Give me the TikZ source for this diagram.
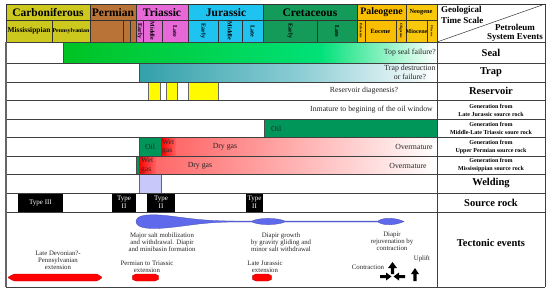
\documentclass[tikz,border=0pt]{standalone}
\usepackage{fontspec}
\setmainfont{Liberation Serif}
\definecolor{carb}{RGB}{205,200,30}
\definecolor{perm}{RGB}{185,115,55}
\definecolor{tri}{RGB}{230,105,215}
\definecolor{jur}{RGB}{30,195,240}
\definecolor{cret}{RGB}{20,155,90}
\definecolor{paleo}{RGB}{250,190,0}
\definecolor{neo}{RGB}{250,200,10}
\definecolor{sealA}{RGB}{0,195,35}
\definecolor{sealB}{RGB}{0,225,120}
\definecolor{trapA}{RGB}{50,160,170}
\definecolor{trapB}{RGB}{140,205,212}
\definecolor{oilg}{RGB}{0,150,90}
\definecolor{pinkA}{RGB}{255,105,105}
\definecolor{weld}{RGB}{200,200,250}
\definecolor{salt}{RGB}{95,105,235}
\definecolor{resy}{RGB}{255,250,0}
\begin{document}
\begin{tikzpicture}[x=1pt,y=-1pt,
  cell/.style={draw=black!80, line width=0.5pt},
  per/.style={font=\bfseries\fontsize{11.5}{12}\selectfont, inner sep=0},
  ep/.style={font=\bfseries\fontsize{6}{6}\selectfont, inner sep=0},
  vep/.style={ep, rotate=-90},
  tiny/.style={font=\bfseries\fontsize{3.5}{3.5}\selectfont, inner sep=0, rotate=-90},
  evt/.style={font=\bfseries\fontsize{10.5}{11}\selectfont, inner sep=0},
  hd/.style={font=\bfseries\fontsize{9}{10}\selectfont, inner sep=0},
  gen/.style={font=\bfseries\fontsize{6}{8}\selectfont, align=center, inner sep=0},
  txt/.style={font=\fontsize{7.8}{8.5}\selectfont, inner sep=0, text=black!85},
  tec/.style={font=\fontsize{6.8}{7}\selectfont, align=center, inner sep=0, text=black!85},
  wtxt/.style={font=\fontsize{7}{8}\selectfont, align=center, inner sep=0, text=white},
  rowline/.style={draw=black!75, line width=0.7pt},
  redarrow/.style={fill=red, draw=red!70!black, line width=0.3pt, rounded corners=1pt},
  blk/.style={fill=black}]
\useasboundingbox (0,0) rectangle (550,293);
% ---------- header: periods
\draw[cell, fill=carb] (6,4) rectangle (90,20);
\draw[cell, fill=perm] (90,4) rectangle (136,20);
\draw[cell, fill=tri] (136,4) rectangle (188,20);
\draw[cell, fill=jur] (188,4) rectangle (263,20);
\draw[cell, fill=cret] (263,4) rectangle (357,20);
\draw[cell, fill=paleo] (357,4) rectangle (406,20);
\draw[cell, fill=neo] (406,4) rectangle (437,20);
\node[per] (pCarb) at (48,12.5) {Carboniferous};
\node[per] (pPerm) at (113,12.5) {Permian};
\node[per] (pTri) at (162,12.5) {Triassic};
\node[per] (pJur) at (226,12.5) {Jurassic};
\node[per] (pCret) at (310,12.5) {Cretaceous};
\node[per, font=\bfseries\fontsize{9.9}{10}\selectfont] (pPal) at (381.5,12.5) {Paleogene};
\node[per, font=\bfseries\fontsize{6.3}{7}\selectfont] (pNeo) at (421,12.5) {Neogene};
% ---------- header: epochs
\draw[cell, fill=carb] (6,20) rectangle (52,42);
\draw[cell, fill=carb] (52,20) rectangle (90,42);
\draw[cell, fill=perm] (90,20) rectangle (123,42);
\draw[cell, fill=perm] (123,20) rectangle (130,42);
\draw[cell, fill=perm] (130,20) rectangle (136,42);
\draw[cell, fill=tri] (136,20) rectangle (143,42);
\draw[cell, fill=tri] (143,20) rectangle (162,42);
\draw[cell, fill=tri] (162,20) rectangle (188,42);
\draw[cell, fill=jur] (188,20) rectangle (218,42);
\draw[cell, fill=jur] (218,20) rectangle (242,42);
\draw[cell, fill=jur] (242,20) rectangle (263,42);
\draw[cell, fill=cret] (263,20) rectangle (317,42);
\draw[cell, fill=cret] (317,20) rectangle (357,42);
\draw[cell, fill=paleo] (357,20) rectangle (365,42);
\draw[cell, fill=paleo] (365,20) rectangle (396,42);
\draw[cell, fill=paleo] (396,20) rectangle (406,42);
\draw[cell, fill=neo] (406,20) rectangle (427,42);
\draw[cell, fill=neo] (427,20) rectangle (437,42);
\node[ep, font=\bfseries\fontsize{7.4}{8}\selectfont] (eMis) at (29,31) {Mississippian};
\node[ep, font=\bfseries\fontsize{5.9}{6}\selectfont] (ePen) at (71,31) {Pennsylvanian};
\node[vep] (eTE) at (139.5,31) {Early};
\node[vep] (eTM) at (152.5,31) {Middle};
\node[vep] (eTL) at (175,31) {Late};
\node[vep] (eJE) at (203,31) {Early};
\node[vep] (eJM) at (230,31) {Middle};
\node[vep] (eJL) at (252.5,31) {Late};
\node[vep] (eKE) at (290,31) {Early};
\node[vep] (eKL) at (337,31) {Late};
\node[tiny] (ePa) at (361,31) {Paleocene};
\node[ep, font=\bfseries\fontsize{6.4}{7}\selectfont] (eEo) at (380.5,31) {Eocene};
\node[tiny] (eOl) at (401,31) {Oligocene};
\node[ep, font=\bfseries\fontsize{6}{7}\selectfont] (eMi) at (416.5,31) {Miocene};
\node[tiny, font=\bfseries\fontsize{3}{3}\selectfont] (ePl) at (432,31) {Pliocene};
% ---------- right header cell
\draw[cell] (437,4) rectangle (545,42);
\draw[cell] (437,42) -- (545,4);
\node[hd, anchor=west] (gts1) at (441,10.5) {Geological};
\node[hd, anchor=west] (gts2) at (441,20.5) {Time Scale};
\node[hd] (pse1) at (515,27.5) {Petroleum};
\node[hd, anchor=east] (pse2) at (543,37) {System Events};
% ---------- row fills
% seal
\shade[left color=sealA, right color=sealB] (63,43) rectangle (320,63);
\shade[left color=sealB, right color=white] (319.5,43) rectangle (437,63);
\draw[black!70, line width=0.4pt] (63,43) -- (63,63);
% trap
\shade[left color=trapA, right color=trapB] (139,63) rectangle (300,82);
\shade[left color=trapB, right color=white] (299.5,63) rectangle (437,82);
\draw[black!70, line width=0.4pt] (139,63) -- (139,82);
% reservoir
\draw[fill=resy, draw=black!60, line width=0.4pt] (148,82) rectangle (160,100);
\draw[fill=resy, draw=black!60, line width=0.4pt] (166,82) rectangle (177,100);
\draw[fill=resy, draw=black!60, line width=0.4pt] (188,82) rectangle (218,100);
% middle-late triassic generation
\fill[oilg] (264,119) rectangle (437,137);
\draw[black!70, line width=0.4pt] (264,119) -- (264,137);
% upper permian generation
\fill[oilg] (139,137) rectangle (161,156);
\shade[left color=red, right color=pinkA] (161,137) rectangle (177,156);
\shade[left color=pinkA, right color=white] (176.5,137) rectangle (437,156);
\draw[black!70, line width=0.4pt] (139,137) -- (139,156) (161,137) -- (161,156);
% mississippian generation
\fill[oilg] (136,156) rectangle (139,174);
\shade[left color=red, right color=pinkA] (139,156) rectangle (157,174);
\shade[left color=pinkA, right color=white] (156.5,156) rectangle (437,174);
\draw[black!70, line width=0.4pt] (136,156) -- (136,174);
% welding
\draw[fill=weld, draw=black!60, line width=0.4pt] (139,174) rectangle (161,193);
% source rock
\fill[blk] (18,193.5) rectangle (63,211.5);
\fill[blk] (112,193.5) rectangle (136,211.5);
\fill[blk] (147,193.5) rectangle (175,211.5);
\fill[blk] (246,193.5) rectangle (263,211.5);
% ---------- grid lines
\foreach \yy in {42,63,82,100,119,137,156,174,193,212,287}
  \draw[rowline] (6,\yy) -- (545,\yy);
\draw[draw=black!60, line width=1.2pt] (6,42) -- (6,287.3);
\draw[rowline] (437,42) -- (437,287);
\draw[rowline] (545,4) -- (545,287);
% ---------- right column labels
\node[evt] (lSeal) at (491,53) {Seal};
\node[evt] (lTrap) at (491,72.5) {Trap};
\node[evt] (lRes) at (491,91) {Reservoir};
\node[gen] (lLJ) at (491,110) {Generation from\\Late Jurassic source rock};
\node[gen] (lMLT) at (491,128.5) {Generation from\\Middle-Late Triassic soure rock};
\node[gen] (lUP) at (491,147) {Generation from\\Upper Permian source rock};
\node[gen] (lMS) at (491,165.5) {Generation from\\Mississippian source rock};
\node[evt] (lWeld) at (491,183.5) {Welding};
\node[evt] (lSrc) at (491,202.5) {Source rock};
\node[evt] (lTec) at (491,242.5) {Tectonic events};
% ---------- row texts
\node[txt, anchor=east] (tSeal) at (436,53) {Top seal failure?};
\node[txt, align=center] (tTrap) at (410,72.5) {Trap destruction\\or failure?};
\node[txt] (tRes) at (364,91) {Reservoir diagenesis?};
\node[txt, anchor=east] (tLJ) at (433,110) {Inmature to begining of the oil window};
\node[txt, anchor=west] (tOil1) at (271,128.5) {Oil};
\node[txt] (tOil2) at (150,147) {Oil};
\node[txt, align=left, anchor=west, font=\fontsize{7.5}{8.5}\selectfont] (tWet1) at (162,147) {Wet\\gas};
\node[txt] (tDry1) at (225,147) {Dry gas};
\node[txt] (tOver1) at (414,147) {Overmature};
\node[txt, align=left, anchor=west, font=\fontsize{7.5}{8.5}\selectfont] (tWet2) at (141,165.5) {Wet\\gas};
\node[txt] (tDry2) at (200,165.5) {Dry gas};
\node[txt] (tOver2) at (408,165.5) {Overmature};
\node[wtxt] (sT3) at (40.5,202.5) {Type III};
\node[wtxt] (sT2a) at (124,202.5) {Type\\II};
\node[wtxt] (sT2b) at (161,202.5) {Type\\II};
\node[wtxt] (sT2c) at (254.5,202.5) {Type\\II};
% ---------- tectonic events
\fill[salt, draw=salt!70!black, line width=0.3pt]
  (136,221.5) .. controls (136,214) and (152,213.8) .. (170,216)
  .. controls (190,218.5) and (205,221) .. (235,221) -- (252,221)
  .. controls (260,217.5) and (276,217.5) .. (285,221) -- (378,221)
  .. controls (384,217) and (395,217.5) .. (404,221.5)
  .. controls (395,225.5) and (384,226) .. (378,222) -- (285,222)
  .. controls (276,225.5) and (260,225.5) .. (252,222) -- (235,222)
  .. controls (205,222) and (190,225.5) .. (170,227.5)
  .. controls (152,229.5) and (136,229) .. (136,221.5) -- cycle;
\node[tec] (tMaj) at (162,242) {Major salt mobilization\\and withdrawal. Diapir\\and minibasin formation};
\node[tec] (tGrow) at (281,242) {Diapir growth\\by gravity gliding and\\minor salt withdrawal};
\node[tec] (tRej) at (392,241.5) {Diapir\\rejuvenation by\\contraction};
\node[tec] (tDev) at (58,260.5) {Late Devonian?-\\Pennsylvanian\\extension};
\node[tec] (tPT) at (147,266.5) {Permian to Triassic\\extension};
\node[tec] (tLJe) at (265,266.5) {Late Jurassic\\extension};
\node[tec] (tCon) at (368,267.5) {Contraction};
\node[tec] (tUp) at (422,258.5) {Uplift};
\draw[redarrow] (7.5,277.5) -- (14,274) -- (97,274) -- (102.5,277.5) -- (97,281) -- (14,281) -- cycle;
\draw[redarrow, rounded corners=2pt] (131,277.5) -- (134,274) -- (157,274) -- (160,277.5) -- (157,281) -- (134,281) -- cycle;
\draw[redarrow, rounded corners=2pt] (251,277.5) -- (254,274) -- (270,274) -- (273,277.5) -- (270,281) -- (254,281) -- cycle;
\fill[blk] (380,275) -- (386,275) -- (386,272.5) -- (391.5,276.5) -- (386,280.5) -- (386,278) -- (380,278) -- cycle;
\fill[blk] (392.5,262) -- (397,268) -- (394.2,268) -- (394.2,274) -- (390.8,274) -- (390.8,268) -- (388,268) -- cycle;
\fill[blk] (405,275) -- (399,275) -- (399,272.5) -- (393.5,276.5) -- (399,280.5) -- (399,278) -- (405,278) -- cycle;
\fill[blk] (415,268) -- (419,274) -- (416.7,274) -- (416.7,281) -- (413.3,281) -- (413.3,274) -- (411,274) -- cycle;
\end{tikzpicture}
\end{document}
